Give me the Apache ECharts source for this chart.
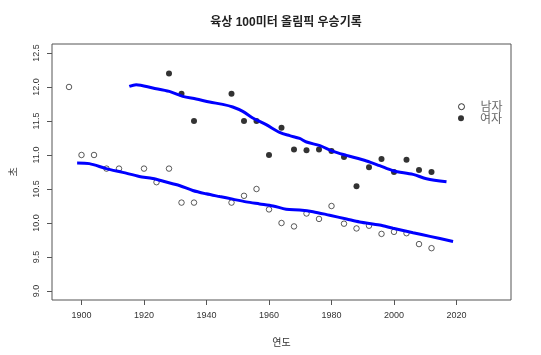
<!DOCTYPE html>
<html><head><meta charset="utf-8">
<script src="https://cdn.jsdelivr.net/npm/echarts@6/dist/echarts.min.js"></script>
<style>html,body{margin:0;padding:0;background:#fff}#c{width:541px;height:355px}</style>
</head><body><div id="c"></div>
<script>
const menYears = [1896,1900,1904,1908,1912,1920,1924,1928,1932,1936,1948,1952,1956,1960,1964,1968,1972,1976,1980,1984,1988,1992,1996,2000,2004,2008,2012];
const menTimes = [12.0,11.0,11.0,10.8,10.8,10.8,10.6,10.8,10.3,10.3,10.3,10.4,10.5,10.2,10.0,9.95,10.14,10.06,10.25,9.99,9.92,9.96,9.84,9.87,9.85,9.69,9.63];
const womenYears = [1928,1932,1936,1948,1952,1956,1960,1964,1968,1972,1976,1980,1984,1988,1992,1996,2000,2004,2008,2012];
const womenTimes = [12.2,11.9,11.5,11.9,11.5,11.5,11.0,11.4,11.08,11.07,11.08,11.06,10.97,10.54,10.82,10.94,10.75,10.93,10.78,10.75];
const menSmoothX = [1898.6,1902.5,1907.9,1913.2,1918.5,1922.8,1927.1,1931.3,1935.6,1939.9,1944.2,1948.4,1952.7,1957.0,1961.3,1965.5,1969.8,1974.1,1979.4,1984.8,1989.0,1995.4,1999.7,2006.1,2011.5,2018.9];
const menSmoothY = [10.883,10.873,10.80,10.744,10.685,10.655,10.602,10.552,10.478,10.429,10.389,10.351,10.311,10.281,10.251,10.203,10.192,10.167,10.114,10.059,10.015,9.970,9.922,9.857,9.803,9.729];
const womenSmoothX = [1915.3,1917.5,1922.8,1928.1,1932.4,1936.7,1941.0,1945.2,1948.4,1951.6,1954.8,1959.1,1963.4,1966.6,1969.8,1972.0,1976.3,1980.5,1984.8,1991.2,1995.4,1999.7,2006.1,2010.4,2016.8];
const womenSmoothY = [12.009,12.034,11.985,11.935,11.862,11.824,11.779,11.744,11.706,11.641,11.544,11.446,11.332,11.284,11.244,11.191,11.137,11.053,10.994,10.912,10.843,10.769,10.715,10.651,10.607];
const xTicks = [1900,1920,1940,1960,1980,2000,2020];
const yTicks = [9.0,9.5,10.0,10.5,11.0,11.5,12.0,12.5];
const seriesNames = ['남자','여자'];
const titleText = '육상 100미터 올림픽 우승기록';
const xName = '연도';
const yName = '초';

const zip = (a,b) => a.map((v,i)=>[v,b[i]]);
const FF = 'Liberation Sans, Arial, Noto Sans CJK KR, sans-serif';
const KR = 'Noto Sans CJK KR, sans-serif';
const legendText = {fontFamily:KR,fontSize:12,color:'#666',padding:[0,0,0,11]};
const chart = echarts.init(document.getElementById('c'), null, {renderer:'canvas'});
chart.setOption({
  animation:false,
  backgroundColor:'#fff',
  title:{text:titleText,left:281,top:12,textAlign:'center',
    textStyle:{fontFamily:FF,fontSize:12,fontWeight:'bold',color:'#222'}},
  grid:{left:52,top:44,right:30,bottom:55,containLabel:false,outerBoundsMode:'none',
    show:true,borderColor:'#555',borderWidth:1,backgroundColor:'transparent'},
  legend:[
    {left:458,top:100.7,padding:0,itemWidth:6,itemHeight:6,
      data:[{name:seriesNames[0],icon:'circle',itemStyle:{color:'#fff',borderColor:'#000',borderWidth:1}}],
      textStyle:legendText},
    {left:458,top:112.3,padding:0,itemWidth:6,itemHeight:6,
      data:[{name:seriesNames[1],icon:'circle',itemStyle:{color:'#000'}}],
      textStyle:legendText}
  ],
  xAxis:{type:'value',min:1890.56,max:2037.44,
    name:xName,nameLocation:'middle',nameGap:37,
    nameTextStyle:{fontFamily:KR,fontSize:10,color:'#333'},
    axisLine:{show:false},
    axisTick:{show:true,length:5,customValues:xTicks,lineStyle:{color:'#555'}},
    axisLabel:{customValues:xTicks,fontFamily:FF,fontSize:9,color:'#333',margin:11,
      formatter:v=>String(v)},
    splitLine:{show:false}},
  yAxis:{type:'value',min:8.868,max:12.632,
    name:yName,nameLocation:'middle',nameGap:34,nameRotate:90,
    nameTextStyle:{fontFamily:KR,fontSize:10,color:'#333'},
    axisLine:{show:false},
    axisTick:{show:true,length:5,customValues:yTicks,lineStyle:{color:'#555'}},
    axisLabel:{customValues:yTicks,rotate:90,fontFamily:FF,fontSize:9,color:'#333',margin:11,
      formatter:v=>v.toFixed(1)},
    splitLine:{show:false}},
  series:[
    {name:seriesNames[0],type:'scatter',symbol:'circle',symbolSize:5.5,
      itemStyle:{color:'#fff',borderColor:'#000',borderWidth:0.8},data:zip(menYears,menTimes)},
    {name:seriesNames[1],type:'scatter',symbol:'circle',symbolSize:6,
      itemStyle:{color:'#000'},data:zip(womenYears,womenTimes)},
    {name:'men_smooth',type:'line',showSymbol:false,symbol:'none',smooth:0.3,
      lineStyle:{color:'#0000ff',width:3},data:zip(menSmoothX,menSmoothY)},
    {name:'women_smooth',type:'line',showSymbol:false,symbol:'none',smooth:0.3,
      lineStyle:{color:'#0000ff',width:3},data:zip(womenSmoothX,womenSmoothY)}
  ]
});
</script></body></html>
